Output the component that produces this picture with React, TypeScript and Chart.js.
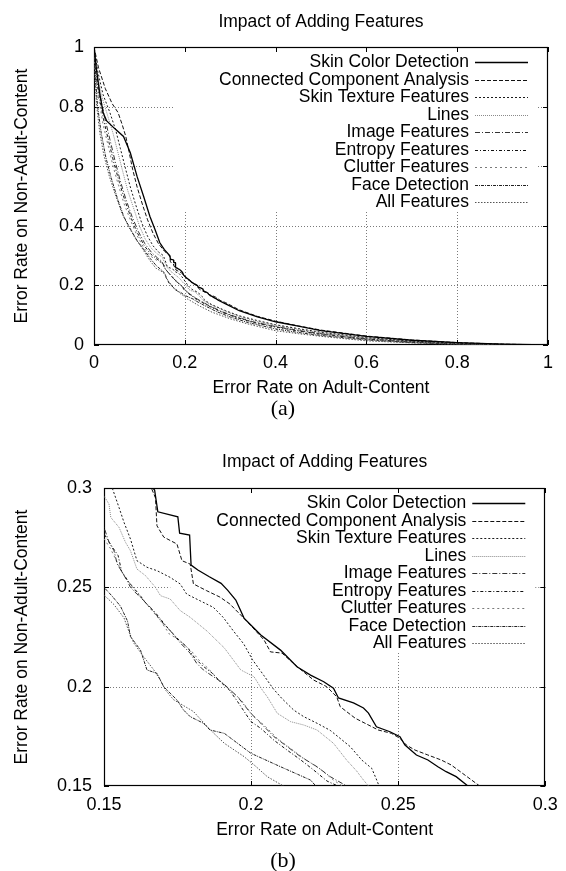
import React, { useEffect, useRef } from 'react';
import { Chart, registerables } from 'chart.js';

Chart.register(...registerables);

const FONT = "'Liberation Sans', Arial, Helvetica, sans-serif";

const chartTitle = 'Impact of Adding Features';
const xAxisTitle = 'Error Rate on Adult-Content';
const yAxisTitle = 'Error Rate on Non-Adult-Content';

const seriesLabels = [
  'Skin Color Detection',
  'Connected Component Analysis',
  'Skin Texture Features',
  'Lines',
  'Image Features',
  'Entropy Features',
  'Clutter Features',
  'Face Detection',
  'All Features',
];

// [x = error on adult content, y = error on non-adult content]
const skinColor = [
  [0, 1], [0.005, 0.93], [0.012, 0.85], [0.02, 0.78], [0.028, 0.752], [0.045, 0.727], [0.065, 0.7],
  [0.08, 0.645], [0.095, 0.565], [0.109, 0.5], [0.123, 0.432], [0.135, 0.385], [0.145, 0.343],
  [0.155, 0.32], [0.1672, 0.299], [0.1683, 0.288], [0.1751, 0.2855], [0.1757, 0.2773], [0.1791, 0.2763],
  [0.1796, 0.2612], [0.1819, 0.2587], [0.1858, 0.2553], [0.1898, 0.252], [0.192, 0.2486], [0.1948, 0.2436],
  [0.1976, 0.2345], [0.2033, 0.226], [0.21, 0.2184], [0.2156, 0.21], [0.2202, 0.2058], [0.2247, 0.2025],
  [0.228, 0.1992], [0.2297, 0.1943], [0.2348, 0.1918], [0.2382, 0.1893], [0.2399, 0.1867], [0.2426, 0.1798],
  [0.2472, 0.1773], [0.2506, 0.1748], [0.2523, 0.1706], [0.2562, 0.1656], [0.2601, 0.1631], [0.2635, 0.1597],
  [0.2663, 0.1572], [0.2697, 0.1547], [0.2737, 0.15], [0.29, 0.138], [0.32, 0.115], [0.36, 0.094],
  [0.4, 0.078], [0.45, 0.063], [0.5, 0.048], [0.6, 0.029], [0.7, 0.016], [0.8, 0.008], [0.9, 0.003], [1, 0],
];

const connectedComponent = [
  [0, 1], [0.01, 0.93], [0.025, 0.86], [0.04, 0.81], [0.053, 0.78], [0.062, 0.74], [0.07, 0.7],
  [0.077, 0.65], [0.085, 0.59], [0.095, 0.53], [0.107, 0.47], [0.118, 0.42], [0.13, 0.375], [0.142, 0.34],
  [0.155, 0.315], [0.1661, 0.3], [0.1675, 0.295], [0.168, 0.281], [0.1703, 0.2753], [0.1748, 0.2718],
  [0.1765, 0.2634], [0.1793, 0.2617], [0.1804, 0.2517], [0.1849, 0.2483], [0.1894, 0.2451], [0.1928, 0.2416],
  [0.1987, 0.2327], [0.2044, 0.2235], [0.2066, 0.2175], [0.2105, 0.2169], [0.2157, 0.21], [0.2213, 0.2033],
  [0.2257, 0.2], [0.2291, 0.1949], [0.2303, 0.1899], [0.2354, 0.1841], [0.2387, 0.1816], [0.2432, 0.1782],
  [0.2477, 0.1765], [0.2506, 0.174], [0.2528, 0.1706], [0.2557, 0.1681], [0.2601, 0.1656], [0.2646, 0.1631],
  [0.268, 0.1606], [0.2703, 0.1581], [0.2777, 0.15], [0.29, 0.142], [0.32, 0.118], [0.36, 0.096],
  [0.4, 0.08], [0.45, 0.064], [0.5, 0.05], [0.6, 0.03], [0.7, 0.017], [0.8, 0.008], [0.9, 0.003], [1, 0],
];

const skinTexture = [
  [0, 1], [0.008, 0.92], [0.02, 0.84], [0.035, 0.78], [0.048, 0.72], [0.058, 0.66], [0.068, 0.6],
  [0.08, 0.53], [0.092, 0.47], [0.105, 0.41], [0.118, 0.365], [0.13, 0.333], [0.142, 0.312],
  [0.1528, 0.3], [0.1551, 0.2902], [0.1568, 0.2827], [0.159, 0.2743], [0.1612, 0.2634], [0.1646, 0.2601],
  [0.168, 0.2584], [0.1725, 0.255], [0.1759, 0.2517], [0.1781, 0.2466], [0.1827, 0.2432], [0.1872, 0.2399],
  [0.1905, 0.2349], [0.194, 0.228], [0.1975, 0.2215], [0.2005, 0.2135], [0.2044, 0.2055], [0.2075, 0.199],
  [0.2105, 0.194], [0.2145, 0.1882], [0.2179, 0.1849], [0.2224, 0.1816], [0.2269, 0.178], [0.2309, 0.1732],
  [0.2337, 0.1698], [0.2376, 0.1631], [0.241, 0.1589], [0.2427, 0.153], [0.2435, 0.15], [0.26, 0.135],
  [0.29, 0.115], [0.32, 0.098], [0.36, 0.082], [0.4, 0.068], [0.45, 0.055], [0.5, 0.043], [0.6, 0.025],
  [0.7, 0.013], [0.8, 0.006], [0.9, 0.002], [1, 0],
];

const lines = [
  [0, 1], [0.006, 0.92], [0.016, 0.84], [0.03, 0.77], [0.042, 0.71], [0.052, 0.65], [0.062, 0.59],
  [0.074, 0.52], [0.087, 0.46], [0.1, 0.4], [0.113, 0.355], [0.126, 0.325], [0.14, 0.305], [0.15, 0.296],
  [0.1517, 0.2919], [0.1523, 0.2852], [0.1551, 0.2802], [0.1573, 0.2727], [0.159, 0.2684], [0.1612, 0.2592],
  [0.1641, 0.2559], [0.1675, 0.25], [0.1692, 0.2458], [0.1725, 0.2441], [0.1759, 0.2383], [0.1793, 0.2349],
  [0.185, 0.228], [0.1909, 0.2195], [0.1965, 0.2084], [0.201, 0.205], [0.2038, 0.1983], [0.2055, 0.1949],
  [0.2089, 0.1866], [0.2134, 0.1824], [0.2179, 0.1807], [0.2224, 0.1782], [0.228, 0.1715], [0.2325, 0.163],
  [0.2359, 0.1575], [0.2382, 0.153], [0.2399, 0.15], [0.26, 0.133], [0.29, 0.113], [0.32, 0.096],
  [0.36, 0.079], [0.4, 0.066], [0.45, 0.053], [0.5, 0.041], [0.6, 0.024], [0.7, 0.012], [0.8, 0.005],
  [0.9, 0.002], [1, 0],
];

const imageFeatures = [
  [0, 1], [0.005, 0.92], [0.013, 0.84], [0.024, 0.76], [0.035, 0.69], [0.046, 0.62], [0.058, 0.55],
  [0.07, 0.49], [0.084, 0.43], [0.098, 0.38], [0.112, 0.34], [0.127, 0.31], [0.14, 0.292], [0.15, 0.2802],
  [0.1517, 0.2727], [0.1534, 0.2684], [0.1545, 0.2617], [0.1579, 0.2533], [0.159, 0.25], [0.1612, 0.2466],
  [0.1635, 0.2433], [0.1658, 0.2399], [0.168, 0.2357], [0.1703, 0.2315], [0.1725, 0.2282], [0.1759, 0.2221],
  [0.1793, 0.2168], [0.1815, 0.2118], [0.1838, 0.2084], [0.1872, 0.205], [0.1905, 0.2017], [0.1954, 0.1949],
  [0.1999, 0.1866], [0.2033, 0.1816], [0.2078, 0.1748], [0.2123, 0.1698], [0.2168, 0.1648], [0.2224, 0.1597],
  [0.2269, 0.1547], [0.2325, 0.15], [0.25, 0.135], [0.28, 0.113], [0.31, 0.096], [0.35, 0.078],
  [0.4, 0.062], [0.45, 0.049], [0.5, 0.038], [0.6, 0.021], [0.7, 0.011], [0.8, 0.004], [0.9, 0.001], [1, 0],
];

const entropyFeatures = [
  [0, 1], [0.004, 0.91], [0.012, 0.83], [0.022, 0.75], [0.033, 0.68], [0.044, 0.61], [0.056, 0.545],
  [0.068, 0.485], [0.082, 0.425], [0.096, 0.375], [0.11, 0.335], [0.125, 0.305], [0.139, 0.288],
  [0.15, 0.2769], [0.1525, 0.271], [0.1548, 0.266], [0.156, 0.258], [0.1585, 0.2525], [0.1605, 0.249],
  [0.1625, 0.2455], [0.1648, 0.241], [0.1675, 0.2372], [0.1695, 0.2335], [0.172, 0.229], [0.1748, 0.2245],
  [0.1785, 0.2195], [0.1808, 0.2145], [0.1835, 0.2105], [0.1868, 0.2068], [0.1895, 0.2025], [0.1925, 0.1985],
  [0.1954, 0.1925], [0.1999, 0.1825], [0.2033, 0.179], [0.2078, 0.173], [0.2123, 0.168], [0.2168, 0.1632],
  [0.2213, 0.158], [0.2258, 0.1525], [0.2295, 0.15], [0.25, 0.133], [0.28, 0.111], [0.31, 0.094],
  [0.35, 0.076], [0.4, 0.06], [0.45, 0.047], [0.5, 0.036], [0.6, 0.02], [0.7, 0.01], [0.8, 0.004],
  [0.9, 0.001], [1, 0],
];

const clutterFeatures = [
  [0, 1], [0.004, 0.9], [0.011, 0.82], [0.02, 0.74], [0.031, 0.67], [0.042, 0.6], [0.054, 0.535],
  [0.066, 0.475], [0.08, 0.42], [0.094, 0.37], [0.108, 0.33], [0.123, 0.3], [0.138, 0.284], [0.15, 0.2745],
  [0.1522, 0.2695], [0.1545, 0.2625], [0.157, 0.2555], [0.16, 0.2495], [0.1628, 0.2445], [0.1662, 0.2385],
  [0.1692, 0.2332], [0.1722, 0.2265], [0.1755, 0.2235], [0.1798, 0.2178], [0.1825, 0.213], [0.1852, 0.2095],
  [0.1885, 0.2042], [0.192, 0.1995], [0.1965, 0.1935], [0.2005, 0.1855], [0.2045, 0.1805], [0.209, 0.1738],
  [0.2135, 0.1688], [0.218, 0.1638], [0.2235, 0.1585], [0.228, 0.153], [0.231, 0.15], [0.25, 0.134],
  [0.28, 0.112], [0.31, 0.095], [0.35, 0.077], [0.4, 0.061], [0.45, 0.048], [0.5, 0.037], [0.6, 0.02],
  [0.7, 0.01], [0.8, 0.004], [0.9, 0.001], [1, 0],
];

const faceDetection = [
  [0, 1], [0.003, 0.9], [0.008, 0.8], [0.016, 0.71], [0.026, 0.63], [0.038, 0.56], [0.052, 0.49],
  [0.066, 0.43], [0.08, 0.39], [0.095, 0.35], [0.109, 0.322], [0.124, 0.29], [0.138, 0.265], [0.15, 0.25],
  [0.1528, 0.2455], [0.1556, 0.2405], [0.158, 0.233], [0.159, 0.2252], [0.1624, 0.2184], [0.1646, 0.2084],
  [0.168, 0.2067], [0.1703, 0.2], [0.1748, 0.1933], [0.177, 0.1883], [0.1793, 0.1849], [0.1838, 0.1816],
  [0.186, 0.1782], [0.1909, 0.1765], [0.1999, 0.1665], [0.21, 0.1597], [0.2202, 0.153], [0.222, 0.15],
  [0.24, 0.135], [0.27, 0.112], [0.3, 0.094], [0.34, 0.075], [0.4, 0.054], [0.45, 0.042], [0.5, 0.032],
  [0.6, 0.017], [0.7, 0.008], [0.8, 0.003], [0.9, 0.001], [1, 0],
];

const allFeatures = [
  [0, 1], [0.002, 0.9], [0.006, 0.8], [0.013, 0.71], [0.022, 0.635], [0.034, 0.565], [0.048, 0.5],
  [0.062, 0.44], [0.077, 0.395], [0.092, 0.355], [0.106, 0.325], [0.12, 0.29], [0.136, 0.258], [0.15, 0.246],
  [0.1511, 0.2446], [0.1534, 0.2413], [0.1568, 0.2346], [0.1584, 0.228], [0.1601, 0.222], [0.1635, 0.215],
  [0.1669, 0.2085], [0.1691, 0.2034], [0.1708, 0.1985], [0.1736, 0.1935], [0.177, 0.1905], [0.1804, 0.1875],
  [0.1838, 0.182], [0.187, 0.177], [0.1909, 0.1715], [0.1976, 0.1648], [0.2015, 0.16], [0.2055, 0.1547],
  [0.211, 0.15], [0.23, 0.133], [0.26, 0.11], [0.3, 0.088], [0.34, 0.07], [0.4, 0.048], [0.45, 0.038],
  [0.5, 0.029], [0.6, 0.014], [0.7, 0.007], [0.8, 0.002], [0.9, 0.0005], [1, 0],
];

const seriesData = [
  skinColor, connectedComponent, skinTexture, lines, imageFeatures,
  entropyFeatures, clutterFeatures, faceDetection, allFeatures,
];

const seriesColors = ['#000000', '#111111', '#1a1a1a', '#8a8a8a', '#333333', '#111111', '#7a7a7a', '#222222', '#555555'];
const seriesDashes = [[], [4, 2], [2, 2], [1, 1], [5, 2, 1, 2], [3, 2, 1, 2], [2, 3], [3, 1, 1, 1], [1.5, 1.5]];
const seriesWidths = [1.3, 1, 1, 1, 1, 1, 1, 1, 1];

const ticksA = [0, 0.2, 0.4, 0.6, 0.8, 1];
const ticksB = [0.15, 0.2, 0.25, 0.3];

const frameOptions = { gapLeftFromRight: 375, gapRightFromRight: 10, gapHeight: 165, tick: 5 };

const gnuFramePlugin = {
  id: 'gnuFrame',
  beforeDatasetsDraw(chart: any) {
    const { ctx, chartArea: a, scales } = chart;
    const xs = scales.x;
    const ys = scales.y;
    const gl = a.right - frameOptions.gapLeftFromRight;
    const gr = a.right - frameOptions.gapRightFromRight;
    const gb = a.top + frameOptions.gapHeight;
    ctx.save();
    ctx.lineWidth = 1;
    ctx.strokeStyle = '#7a7a7a';
    ctx.setLineDash([1, 2]);
    ctx.beginPath();
    for (const t of xs.ticks) {
      const px = Math.round(xs.getPixelForValue(t.value)) + 0.5;
      if (px <= a.left + 2 || px >= a.right - 2) continue;
      const top = px > gl && px < gr ? gb : a.top;
      ctx.moveTo(px, a.bottom);
      ctx.lineTo(px, top);
    }
    for (const t of ys.ticks) {
      const py = Math.round(ys.getPixelForValue(t.value)) + 0.5;
      if (py <= a.top + 2 || py >= a.bottom - 2) continue;
      if (py > a.top && py < gb) {
        ctx.moveTo(a.left, py);
        ctx.lineTo(gl, py);
        ctx.moveTo(gr, py);
        ctx.lineTo(a.right, py);
      } else {
        ctx.moveTo(a.left, py);
        ctx.lineTo(a.right, py);
      }
    }
    ctx.stroke();
    ctx.setLineDash([]);
    ctx.strokeStyle = '#000';
    ctx.beginPath();
    const tk = frameOptions.tick;
    for (const t of xs.ticks) {
      const px = Math.round(xs.getPixelForValue(t.value)) + 0.5;
      ctx.moveTo(px, a.bottom);
      ctx.lineTo(px, a.bottom - tk);
      ctx.moveTo(px, a.top);
      ctx.lineTo(px, a.top + tk);
    }
    for (const t of ys.ticks) {
      const py = Math.round(ys.getPixelForValue(t.value)) + 0.5;
      ctx.moveTo(a.left, py);
      ctx.lineTo(a.left + tk, py);
      ctx.moveTo(a.right, py);
      ctx.lineTo(a.right - tk, py);
    }
    ctx.stroke();
    ctx.lineWidth = 1.2;
    ctx.strokeRect(Math.round(a.left) + 0.5, Math.round(a.top) + 0.5, Math.round(a.right - a.left) - 1, Math.round(a.bottom - a.top) - 1);
    ctx.restore();
  },
};

const gnuLegendPlugin = {
  id: 'gnuLegend',
  afterDatasetsDraw(chart: any) {
    const { ctx, chartArea: a } = chart;
    ctx.save();
    ctx.font = `17.5px ${FONT}`;
    ctx.textAlign = 'right';
    ctx.textBaseline = 'middle';
    ctx.fillStyle = '#000';
    chart.data.datasets.forEach((ds: any, i: number) => {
      const y = Math.round(a.top + 15 + i * 17.5) + 0.5;
      ctx.fillText(ds.label, a.right - 79, y);
      ctx.beginPath();
      ctx.strokeStyle = ds.borderColor;
      ctx.lineWidth = ds.borderWidth;
      ctx.setLineDash(ds.borderDash || []);
      ctx.moveTo(a.right - 73, y);
      ctx.lineTo(a.right - 20, y);
      ctx.stroke();
    });
    ctx.restore();
  },
};

type Layout = {
  min: number; max: number; ticks: number[];
  yWidth: number; xHeight: number;
  titleTop: number; titleBottom: number;
  xTickPad: number; yTickPad: number; xTitleBottom: number;
};

function makeConfig(L: Layout): any {
  const font = { family: FONT, size: 17.5, weight: 'normal' as const };
  const tickFont = { family: FONT, size: 18, weight: 'normal' as const };
  return {
    type: 'line',
    data: {
      datasets: seriesData.map((s, i) => ({
        label: seriesLabels[i],
        data: s.map(([x, y]) => ({ x, y })),
        borderColor: seriesColors[i],
        borderDash: seriesDashes[i],
        borderWidth: seriesWidths[i],
        pointRadius: 0,
        fill: false,
        tension: 0,
      })),
    },
    options: {
      responsive: false,
      animation: false,
      events: [],
      layout: { padding: { left: 0, right: 18, top: 0, bottom: 0 } },
      plugins: {
        legend: { display: false },
        tooltip: { enabled: false },
        title: {
          display: true,
          text: chartTitle,
          fullSize: false,
          color: '#000',
          font,
          padding: { top: L.titleTop, bottom: L.titleBottom },
        },
      },
      scales: {
        x: {
          type: 'linear',
          position: 'bottom',
          min: L.min,
          max: L.max,
          grid: { display: false, drawTicks: false },
          border: { display: false },
          ticks: { color: '#000', font: tickFont, padding: L.xTickPad, autoSkip: false, maxRotation: 0, callback: (v: number) => String(v) },
          afterBuildTicks: (s: any) => { s.ticks = L.ticks.map((v) => ({ value: v })); },
          afterFit: (s: any) => { s.height = L.xHeight; },
          title: { display: true, text: xAxisTitle, color: '#000', font, padding: { top: 0, bottom: L.xTitleBottom } },
        },
        y: {
          type: 'linear',
          position: 'left',
          min: L.min,
          max: L.max,
          grid: { display: false, drawTicks: false },
          border: { display: false },
          ticks: { color: '#000', font: tickFont, padding: L.yTickPad, autoSkip: false, callback: (v: number) => String(v) },
          afterBuildTicks: (s: any) => { s.ticks = L.ticks.map((v) => ({ value: v })); },
          afterFit: (s: any) => { s.width = L.yWidth; },
          title: { display: true, text: yAxisTitle, color: '#000', font, padding: { top: 11.5, bottom: 0 } },
        },
      },
    },
    plugins: [gnuFramePlugin, gnuLegendPlugin],
  };
}

const layoutA: Layout = {
  min: 0, max: 1, ticks: ticksA, yWidth: 94, xHeight: 55,
  titleTop: 11.5, titleBottom: 14.5, xTickPad: 7.2, yTickPad: 10, xTitleBottom: 1.5,
};
const layoutB: Layout = {
  min: 0.15, max: 0.3, ticks: ticksB, yWidth: 104, xHeight: 64,
  titleTop: 21.5, titleBottom: 15.5, xTickPad: 8.2, yTickPad: 12, xTitleBottom: 9.5,
};

function GnuChart({ layout, width, height, top }: { layout: Layout; width: number; height: number; top: number }) {
  const ref = useRef<HTMLCanvasElement | null>(null);
  useEffect(() => {
    if (!ref.current) return;
    const chart = new Chart(ref.current, makeConfig(layout));
    return () => chart.destroy();
  }, [layout]);
  return (
    <canvas
      ref={ref}
      width={width}
      height={height}
      style={{ position: 'absolute', left: 0, top, width, height, display: 'block' }}
    />
  );
}

const captionStyle: React.CSSProperties = {
  position: 'absolute',
  left: 0,
  width: 566,
  textAlign: 'center',
  fontFamily: "'Liberation Serif', 'Times New Roman', serif",
  fontSize: 22,
  lineHeight: '26px',
  color: '#000',
};

export default function App() {
  return (
    <div style={{ position: 'absolute', left: 0, top: 0, width: 566, height: 871, background: '#fff', overflow: 'hidden' }}>
      <GnuChart layout={layoutA} width={566} height={400} top={0} />
      <div style={{ ...captionStyle, top: 395 }}>(a)</div>
      <GnuChart layout={layoutB} width={566} height={420} top={430} />
      <div style={{ ...captionStyle, top: 847 }}>(b)</div>
    </div>
  );
}
